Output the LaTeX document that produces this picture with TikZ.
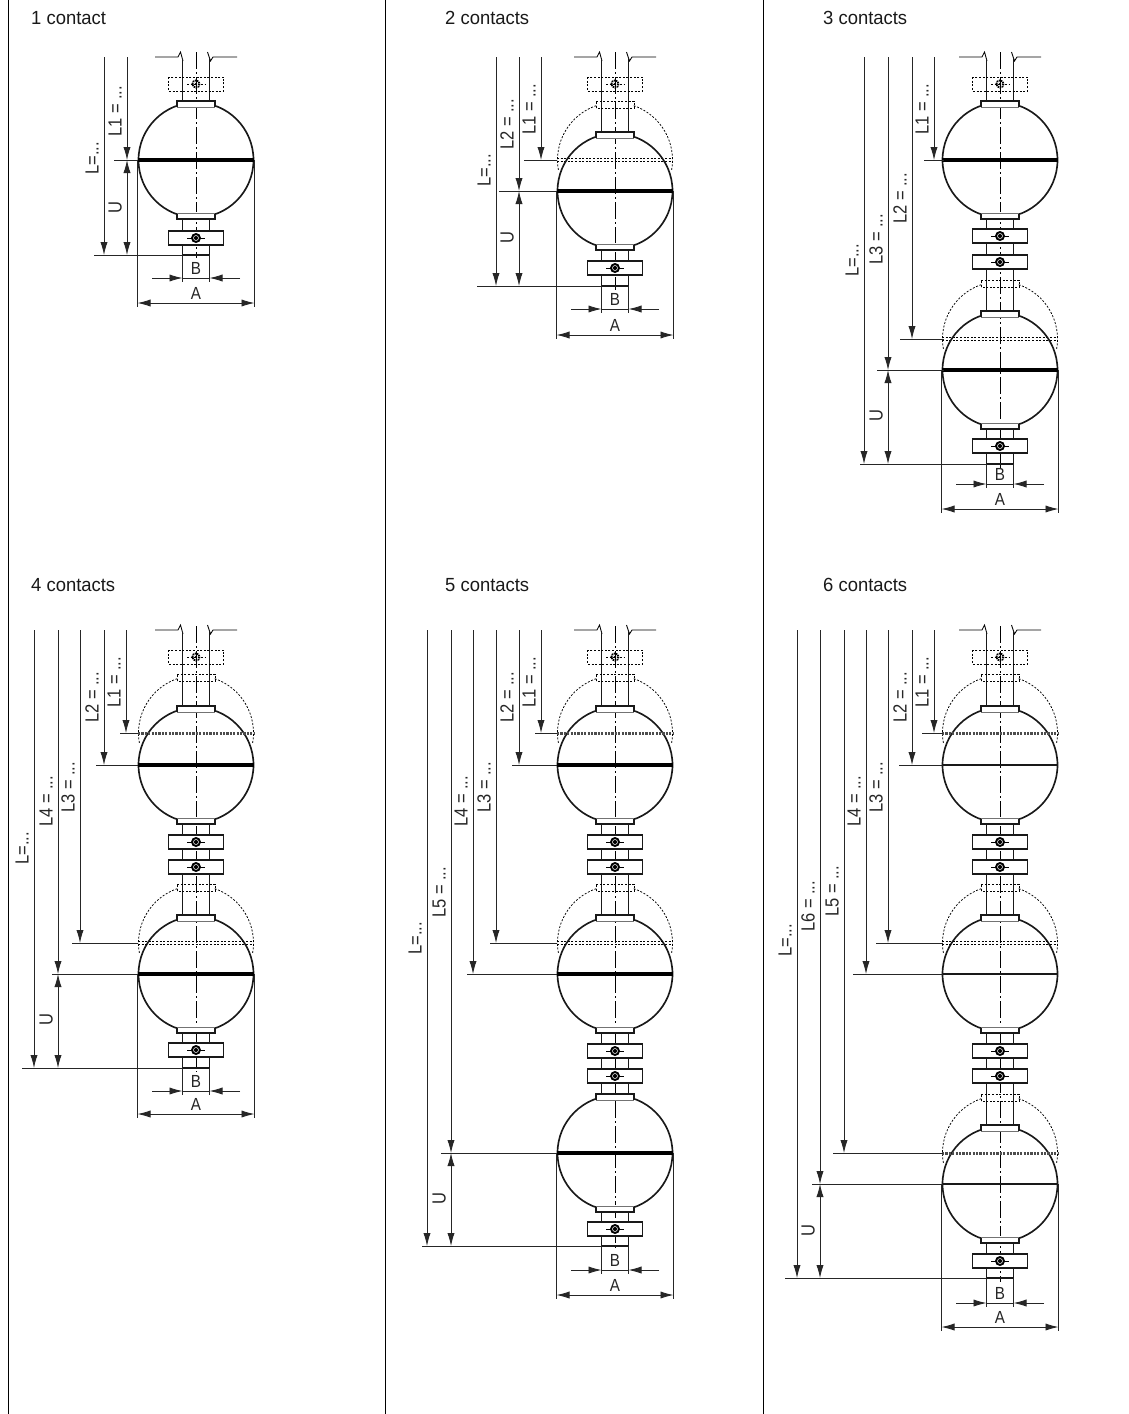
\documentclass[tikz,border=0pt]{standalone}
\usepackage{fontspec}
\setmainfont{Liberation Sans}
\newfontfamily\narrowf[FakeStretch=0.87]{Liberation Sans}
\newfontfamily\titlef[FakeStretch=0.97]{Liberation Sans}
\usetikzlibrary{arrows.meta}
\tikzset{
  arr/.tip={Latex[length=13pt,width=7.2pt]},
  body/.style={line width=1.65pt,black!90},
  thinb/.style={line width=.8pt,black!55},
  dashb/.style={line width=.75pt,black,dash pattern=on 2pt off 1.6pt},
  dimline/.style={line width=.85pt,black!85},
  axisl/.style={line width=.8pt,black,dash pattern=on 17pt off 3pt on 2pt off 3pt},
  eqthick/.style={line width=3.4pt,black},
  eqthin/.style={line width=2pt,black!90},
  eqdots/.style={line width=3pt,black!70,dash pattern=on 2.2pt off 1.2pt},
  lab/.style={font=\narrowf\fontsize{19}{19}\selectfont,rotate=90,anchor=base west,inner sep=0pt,text=black!85},
  letter/.style={font=\narrowf\fontsize{17.5}{17.5}\selectfont,inner sep=0pt,text=black!85},
  ttl/.style={font=\titlef\fontsize{19}{19}\selectfont,anchor=base west,inner sep=0pt,text=black!90},
}
% #1 cx, #2 y1, #3 y2
\newcommand\rodpart[3]{\draw[body] (#1-13.5,#2) -- (#1-13.5,#3) (#1+13.5,#2) -- (#1+13.5,#3);}
% top break: #1 cx, #2 y
\newcommand\topbreak[2]{%
  \draw[line width=.85pt] (#1-41,#2) -- (#1-18,#2) -- (#1-15.5,#2-5) -- (#1-13,#2+4);
  \draw[line width=.85pt] (#1+11.5,#2-5) -- (#1+14.5,#2+4) -- (#1+17,#2) -- (#1+41,#2);
  \rodpart{#1}{#2+2}{#2+5}}
% solid clamp: #1 cx #2 cy
\newcommand\clampS[2]{%
  \draw[body,fill=white] (#1-27.5,#2-7) rectangle (#1+27.5,#2+7);
  \draw[line width=.8pt] (#1-9,#2) -- (#1+9,#2);
  \fill[black] (#1,#2) circle (5pt);
  \draw[white,line width=.5pt] (#1,#2) circle (2.5pt);}
\newcommand\clampD[2]{%
  \draw[dashb] (#1-27.5,#2-7) rectangle (#1+27.5,#2+7);
  \draw[line width=.8pt,dash pattern=on 2pt off 1.5pt] (#1-9,#2) -- (#1+9,#2);
  \draw[black,line width=1.8pt,dash pattern=on 1.4pt off .8pt] (#1,#2) circle (3.6pt);
  \fill[black] (#1,#2) circle (1.4pt);}
% solid ball: #1 cx #2 cy #3 equator style
\newcommand\ballS[3]{%
  \draw[body] (#1,#2) circle (57.5pt);
  \fill[white] (#1-19,#2-60) rectangle (#1+19,#2-52);
  \fill[white] (#1-19,#2+52) rectangle (#1+19,#2+60);
  \draw[body] (#1-19,#2-53) -- (#1-19,#2-59) -- (#1+19,#2-59) -- (#1+19,#2-53);
  \draw[thinb] (#1-19,#2-53) -- (#1+19,#2-53);
  \draw[body] (#1-19,#2+53) -- (#1-19,#2+59) -- (#1+19,#2+59) -- (#1+19,#2+53);
  \draw[thinb] (#1-19,#2+53) -- (#1+19,#2+53);
  \draw[#3] (#1-58,#2) -- (#1+58,#2);}
% dashed ball: #1 cx #2 cy
\newcommand\ballD[2]{%
  \draw[dashb] (#1-19,#2-52) -- (#1-19,#2-59) -- (#1+19,#2-59) -- (#1+19,#2-52) -- cycle;
  \draw[dashb] ({#1+57.5*cos(-71)},{#2+57.5*sin(-71)}) arc[start angle=-71,end angle=11,radius=57.5pt];
  \draw[dashb] ({#1+57.5*cos(-109)},{#2+57.5*sin(-109)}) arc[start angle=-109,end angle=-191,radius=57.5pt];}
\newcommand\eqD[2]{\draw[eqdots] (#1-58,#2) -- (#1+58,#2);}
\newcommand\eqDD[2]{\draw[dashb] (#1-58,#2-1.2) -- (#1+58,#2-1.2) (#1-58,#2+1.2) -- (#1+58,#2+1.2);}
\newcommand\axisline[3]{\draw[axisl] (#1,#2) -- (#1,#3);}
% dimensions
\newcommand\dl[3]{\draw[dimline,-{arr}] (#1,#2) -- (#1,#3);}
\newcommand\du[3]{\draw[dimline,{arr}-{arr}] (#1,#2) -- (#1,#3);}
\newcommand\extl[3]{\draw[dimline] (#1,#3) -- (#2,#3);}
% bottom dims: #1 cx #2 last cy #3 bottom #4 yB #5 yA #6 prefix
\newcommand\bdims[6]{%
  \draw[dimline] (#1-58.5,#2) -- (#1-58.5,#5+4) (#1+58.5,#2) -- (#1+58.5,#5+4);
  \draw[dimline] (#1-13.5,#3) -- (#1-13.5,#4+4) (#1+13.5,#3) -- (#1+13.5,#4+4);
  \draw[dimline,{arr}-{arr}] (#1-58.5,#5) -- (#1+58.5,#5);
  \draw[dimline,-{arr}] (#1-44,#4) -- (#1-13.5,#4);
  \draw[dimline,-{arr}] (#1+44,#4) -- (#1+13.5,#4);
  \draw[dimline] (#1-13.5,#4) -- (#1+13.5,#4);
  \node[letter] (#6A) at (#1,#5-10) {A};
  \node[letter] (#6B) at (#1,#4-9.5) {B};}
\newcommand\lbl[4]{\node[lab] (#1) at (#2-5.5,#3) {#4};}
\begin{document}
\begin{tikzpicture}[x=1pt,y=1pt,yscale=-1]
\useasboundingbox (0,0) rectangle (1129,1414);
\fill[white] (0,0) rectangle (1129,1414);
\draw[line width=.95pt] (8,0) -- (8,1414) (385,0) -- (385,1414) (763,0) -- (763,1414);
\node[ttl] (t1) at (31,24) {1 contact};
\node[ttl] (t2) at (445,24) {2 contacts};
\node[ttl] (t3) at (823,24) {3 contacts};
\node[ttl] (t4) at (31,591) {4 contacts};
\node[ttl] (t5) at (445,591) {5 contacts};
\node[ttl] (t6) at (823,591) {6 contacts};

% ---------- panel 1
\axisline{196}{52}{258}
\topbreak{196}{57}
\rodpart{196}{60}{101}\rodpart{196}{219}{255}
\draw[body] (182.5,255) -- (209.5,255);
\ballS{196}{160}{eqthick}
\clampD{196}{84}\clampS{196}{238}
\dl{104}{57}{255}\dl{127}{57}{160}\du{127}{160}{255}
\extl{114}{138}{160}\extl{94}{182}{255}
\bdims{196}{160}{255}{278}{303}{a}
\lbl{aL1}{127}{137}{L1 = ...}
\lbl{aL}{104}{175}{L=...}
\lbl{aU}{127}{214}{U}

% ---------- panel 2
\axisline{615}{52}{290}
\topbreak{615}{57}
\rodpart{615}{60}{132}\rodpart{615}{250}{286}
\draw[body] (601.5,286) -- (628.5,286);
\ballD{615}{160}\eqDD{615}{160}
\ballS{615}{191}{eqthick}
\clampD{615}{84}\clampS{615}{268}
\dl{496}{57}{286}\dl{519}{57}{191}\du{519}{191}{286}\dl{541}{57}{160}
\extl{524}{557}{160}\extl{499}{557}{191}\extl{477}{601}{286}
\bdims{615}{191}{286}{309}{335}{b}
\lbl{bL1}{541}{135}{L1 = ...}
\lbl{bL2}{519}{150}{L2 = ...}
\lbl{bL}{496}{187}{L=...}
\lbl{bU}{519}{244}{U}

% ---------- panel 3
\axisline{1000}{52}{468}
\topbreak{1000}{57}
\rodpart{1000}{60}{101}\rodpart{1000}{219}{311}\rodpart{1000}{429}{464}
\draw[body] (986.5,464) -- (1013.5,464);
\ballS{1000}{160}{eqthick}
\ballD{1000}{339}\eqDD{1000}{339}
\ballS{1000}{370}{eqthick}
\clampD{1000}{84}\clampS{1000}{236}\clampS{1000}{262}\clampS{1000}{446}
\dl{864}{57}{464}\dl{888}{57}{370}\du{888}{370}{464}\dl{912}{57}{339}\dl{934}{57}{160}
\extl{924}{944}{160}\extl{900}{944}{339}\extl{877}{944}{370}\extl{860}{986}{464}
\bdims{1000}{370}{464}{484}{509}{c}
\lbl{cL1}{934}{135}{L1 = ...}
\lbl{cL2}{912}{224}{L2 = ...}
\lbl{cL3}{888}{265}{L3 = ...}
\lbl{cL}{864}{277}{L=...}
\lbl{cU}{888}{422}{U}

% ---------- panel 4
\axisline{196}{626}{1072}
\topbreak{196}{630}
\rodpart{196}{633}{706}\rodpart{196}{824}{915}\rodpart{196}{1033}{1068}
\draw[body] (182.5,1068) -- (209.5,1068);
\ballD{196}{733}
\ballS{196}{765}{eqthick}\eqD{196}{733}
\ballD{196}{943}
\ballS{196}{974}{eqthick}\eqDD{196}{943}
\clampD{196}{657}\clampS{196}{842}\clampS{196}{867}\clampS{196}{1050}
\dl{34}{630}{1068}\dl{58}{630}{974}\du{58}{974}{1068}\dl{80}{630}{943}\dl{104}{630}{765}\dl{126}{630}{733}
\extl{120}{138}{733}\extl{96}{138}{765}\extl{72}{138}{943}\extl{52}{138}{974}\extl{22}{182}{1068}
\bdims{196}{974}{1068}{1091}{1114}{d}
\lbl{dL1}{126}{708}{L1 = ...}
\lbl{dL2}{104}{723}{L2 = ...}
\lbl{dL3}{80}{813}{L3 = ...}
\lbl{dL4}{58}{827}{L4 = ...}
\lbl{dL}{34}{865}{L=...}
\lbl{dU}{58}{1026}{U}

% ---------- panel 5
\axisline{615}{626}{1250}
\topbreak{615}{630}
\rodpart{615}{633}{706}\rodpart{615}{824}{915}\rodpart{615}{1033}{1094}\rodpart{615}{1212}{1246}
\draw[body] (601.5,1246) -- (628.5,1246);
\ballD{615}{733}
\ballS{615}{765}{eqthick}\eqD{615}{733}
\ballD{615}{943}
\ballS{615}{974}{eqthick}\eqDD{615}{943}
\ballS{615}{1153}{eqthick}
\clampD{615}{657}\clampS{615}{842}\clampS{615}{867}\clampS{615}{1051}\clampS{615}{1076}\clampS{615}{1229}
\dl{427}{630}{1246}\dl{451}{630}{1153}\du{451}{1153}{1246}\dl{473}{630}{974}\dl{496}{630}{943}\dl{519}{630}{765}\dl{541}{630}{733}
\extl{535}{557}{733}\extl{512}{557}{765}\extl{490}{557}{943}\extl{467}{557}{974}\extl{441}{557}{1153}\extl{422}{601}{1246}
\bdims{615}{1153}{1246}{1270}{1295}{e}
\lbl{eL1}{541}{708}{L1 = ...}
\lbl{eL2}{519}{723}{L2 = ...}
\lbl{eL3}{496}{813}{L3 = ...}
\lbl{eL4}{473}{827}{L4 = ...}
\lbl{eL5}{451}{918}{L5 = ...}
\lbl{eL}{427}{955}{L=...}
\lbl{eU}{451}{1205}{U}

% ---------- panel 6
\axisline{1000}{626}{1282}
\topbreak{1000}{630}
\rodpart{1000}{633}{706}\rodpart{1000}{824}{915}\rodpart{1000}{1033}{1125}\rodpart{1000}{1243}{1278}
\draw[body] (986.5,1278) -- (1013.5,1278);
\ballD{1000}{733}
\ballS{1000}{765}{eqthin}\eqD{1000}{733}
\ballD{1000}{943}
\ballS{1000}{974}{eqthin}\eqDD{1000}{943}
\ballD{1000}{1153}
\ballS{1000}{1184}{eqthin}\eqD{1000}{1153}
\clampD{1000}{657}\clampS{1000}{842}\clampS{1000}{867}\clampS{1000}{1051}\clampS{1000}{1076}\clampS{1000}{1261}
\dl{797}{630}{1278}\dl{820}{630}{1184}\du{820}{1184}{1278}\dl{844}{630}{1153}\dl{866}{630}{974}\dl{888}{630}{943}\dl{912}{630}{765}\dl{934}{630}{733}
\extl{922}{943}{733}\extl{899}{943}{765}\extl{876}{943}{943}\extl{853}{943}{974}\extl{833}{943}{1153}\extl{812}{943}{1184}\extl{785}{986}{1278}
\bdims{1000}{1184}{1278}{1303}{1327}{f}
\lbl{fL1}{934}{708}{L1 = ...}
\lbl{fL2}{912}{723}{L2 = ...}
\lbl{fL3}{888}{813}{L3 = ...}
\lbl{fL4}{866}{827}{L4 = ...}
\lbl{fL5}{844}{917}{L5 = ...}
\lbl{fL6}{820}{932}{L6 = ...}
\lbl{fL}{797}{957}{L=...}
\lbl{fU}{820}{1237}{U}
\end{tikzpicture}
\end{document}
